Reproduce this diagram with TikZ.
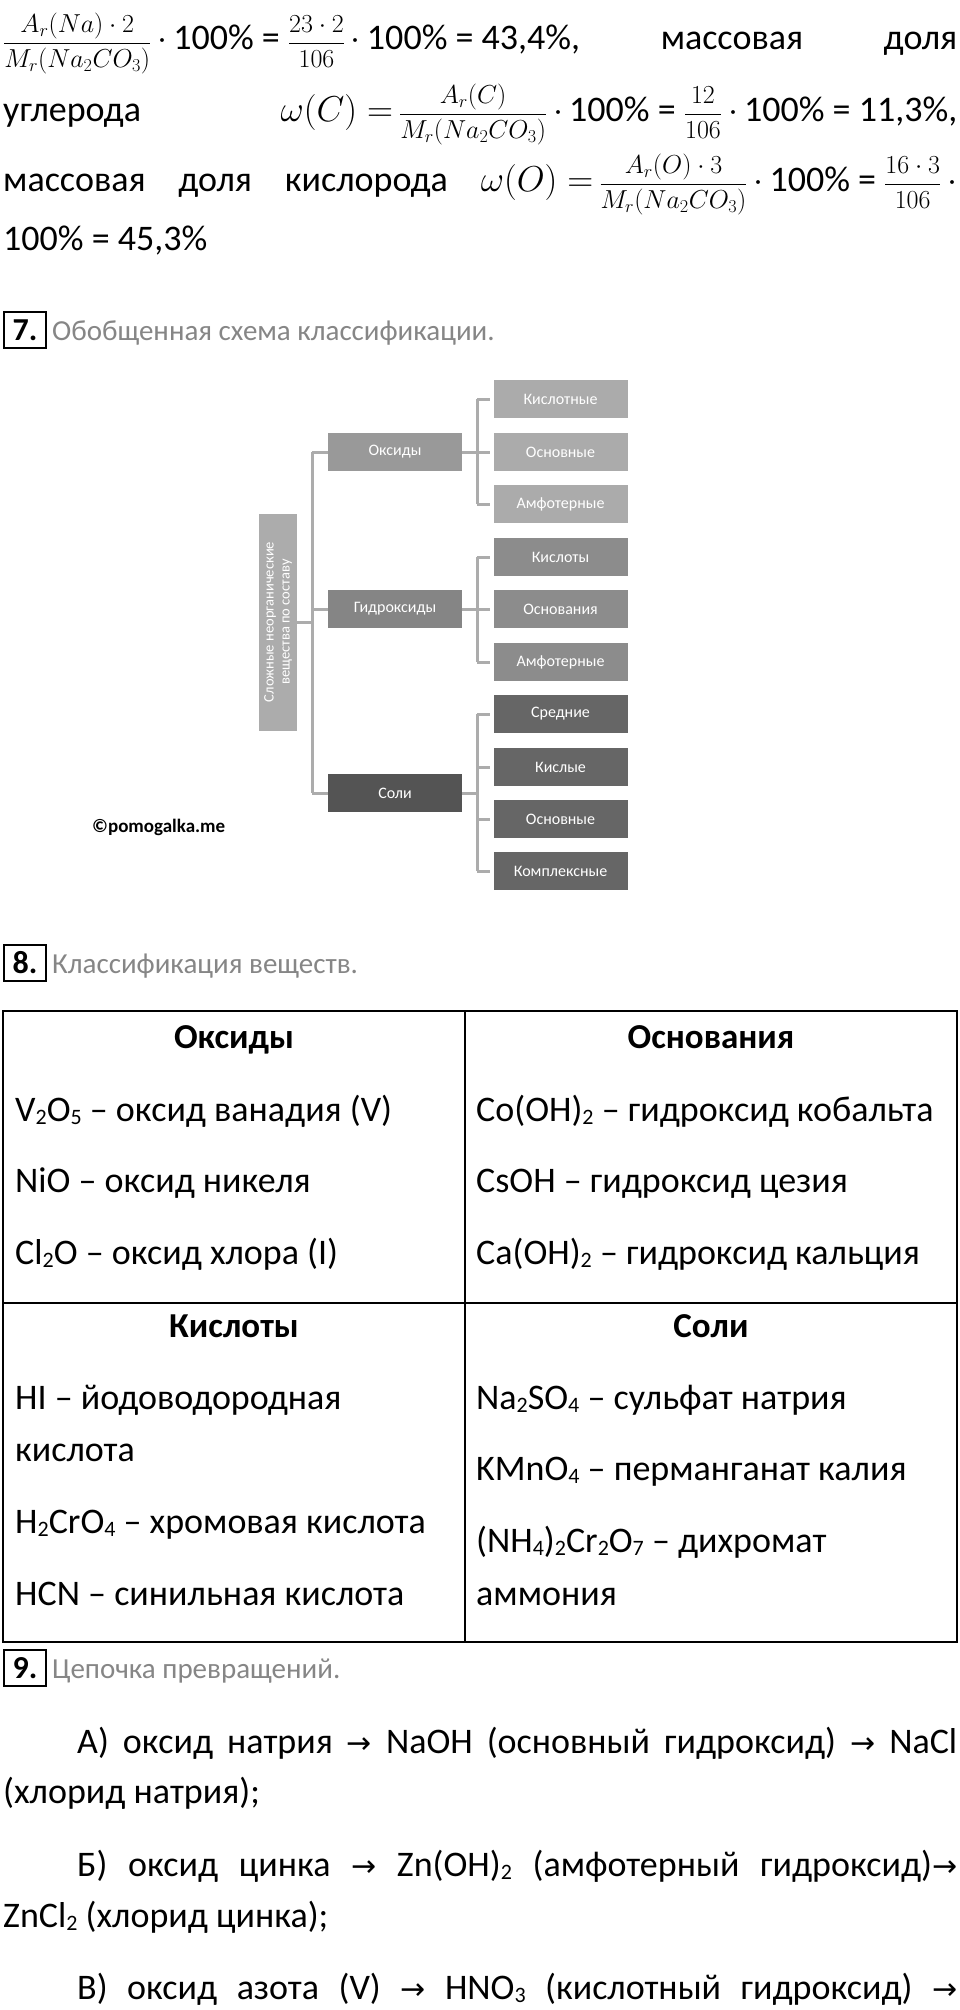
\documentclass[tikz,border=0pt]{standalone}
\usepackage{fix-cm}
\usepackage{fontspec}
\setmainfont{Carlito}
\newfontfamily\arr{DejaVu Sans}
\newcommand{\ar}{{\arr\fontsize{30}{34}\selectfont →}}
\newcommand{\sub}[1]{\raisebox{-0.2ex}{\fontsize{22}{24}\selectfont #1}}
\newcommand{\fr}[2]{{\fontsize{26}{28}\selectfont$\displaystyle\frac{#1}{#2}$}}
\newcommand{\cd}{\,$\cdot$\,}
\begin{document}
\begin{tikzpicture}[x=1pt,y=-1pt,
  txt/.style={anchor=base west,inner sep=0pt,font=\fontsize{36}{40}\selectfont},
  ttl/.style={anchor=base west,inner sep=0pt,text=gray!95,font=\fontsize{29}{32}\selectfont},
  num/.style={draw,line width=1.5pt,inner sep=2pt,minimum width=42pt,minimum height=36pt,font=\fontsize{32}{34}\selectfont\bfseries},
  bx/.style={minimum width=134pt,minimum height=38pt,inner sep=0pt,text=white,font=\fontsize{16}{18}\selectfont},
  ln/.style={draw=gray!65,line width=3pt},
  hd/.style={anchor=base,inner sep=0pt,font=\fontsize{35}{40}\selectfont\bfseries}]
\useasboundingbox (0,0) rectangle (960,2010);
\fill[white] (0,0) rectangle (960,2010);
% formulas
\node[txt] (f1) at (3,50) {\hbox to 954pt{\fr{A_r(Na)\cdot 2}{M_r(Na_2CO_3)}\cd100\% = \fr{23\cdot 2}{106}\cd100\% = 43,4\%,\hfill массовая\hfill доля}};
\node[txt] (f2) at (3,121) {\hbox to 954pt{углерода\hfill $\omega(C)=$\,\fr{A_r(C)}{M_r(Na_2CO_3)}\cd100\% = \fr{12}{106}\cd100\% = 11,3\%,}};
\node[txt] (f3) at (3,191) {\hbox to 954pt{массовая\hfill доля\hfill кислорода\hfill $\omega(O)=$\,\fr{A_r(O)\cdot 3}{M_r(Na_2CO_3)}\cd100\% = \fr{16\cdot 3}{106}\,$\cdot$}};
\node[txt] (f4) at (3,250) {100\% = 45,3\%};
% section 7
\node[num] (n7) at (25,330) {7.};
\node[ttl] (t7) at (52,340) {Обобщенная схема классификации.};
\fill[gray!65] (259,514) rectangle (297,731);
\node[rotate=90,text=white,align=center,inner sep=0pt,font=\fontsize{14.5}{16}\selectfont] (root) at (278,622) {Сложные неорганические\\вещества по составу};
\coordinate (rw) at (297,622);
\node[bx,fill=gray!80] (ox) at (395,452) {Оксиды};
\node[bx,fill=black!48] (hy) at (395,609) {Гидроксиды};
\node[bx,fill=black!67] (sa) at (395,793) {Соли};
\draw[ln] (rw) -- (312,622);
\draw[ln] (312,452) -- (312,793);
\draw[ln] (312,452) -- (ox.west);
\draw[ln] (312,609) -- (hy.west);
\draw[ln] (312,793) -- (sa.west);
\foreach \n/\y/\t/\c in {a/399/Кислотные/33,b/452/Основные/33,c/504/Амфотерные/33,
  d/557/Кислоты/45,e/609/Основания/45,f/662/Амфотерные/45,
  g/714/Средние/60,h/767/Кислые/60,i/819/Основные/60,j/871/Комплексные/60}{
  \node[bx,fill=black!\c] (l\n) at (560.5,\y) {\t};
  \draw[ln] (477,\y) -- (490,\y);
}
\draw[ln] (462,452) -- (477,452); \draw[ln] (477,399) -- (477,504);
\draw[ln] (462,609) -- (477,609); \draw[ln] (477,557) -- (477,662);
\draw[ln] (462,793) -- (477,793); \draw[ln] (477,714) -- (477,871);
\node[anchor=west,inner sep=0pt,font=\fontsize{19}{20}\selectfont\bfseries] (wm) at (92,827) {©pomogalka.me};
% section 8
\node[num] (n8) at (25,963) {8.};
\node[ttl] (t8) at (52,973) {Классификация веществ.};
\draw[line width=1.5pt] (3,1011) rectangle (957,1642);
\draw[line width=1.5pt] (465,1011) -- (465,1642);
\draw[line width=1.5pt] (3,1303) -- (957,1303);
\node[hd] (h1) at (234,1048) {Оксиды};
\node[hd] (h2) at (711,1048) {Основания};
\node[hd] (h3) at (234,1337) {Кислоты};
\node[hd] (h4) at (711,1337) {Соли};
\node[txt] at (15,1121) {V\sub{2}O\sub{5} – оксид ванадия (V)};
\node[txt] at (15,1192) {NiO – оксид никеля};
\node[txt] at (15,1264) {Cl\sub{2}O – оксид хлора (I)};
\node[txt] at (476,1121) {Co(OH)\sub{2} – гидроксид кобальта};
\node[txt] at (476,1192) {CsOH – гидроксид цезия};
\node[txt] at (476,1264) {Ca(OH)\sub{2} – гидроксид кальция};
\node[txt] at (15,1409) {HI – йодоводородная};
\node[txt] at (15,1461) {кислота};
\node[txt] at (15,1533) {H\sub{2}CrO\sub{4} – хромовая кислота};
\node[txt] at (15,1605) {HCN – синильная кислота};
\node[txt] at (476,1409) {Na\sub{2}SO\sub{4} – сульфат натрия};
\node[txt] at (476,1480) {KMnO\sub{4} – перманганат калия};
\node[txt] at (476,1552) {(NH\sub{4})\sub{2}Cr\sub{2}O\sub{7} – дихромат};
\node[txt] at (476,1605) {аммония};
% section 9
\node[num] (n9) at (25,1668) {9.};
\node[ttl] (t9) at (52,1678) {Цепочка превращений.};
\node[txt] (p1) at (77,1753) {\hbox to 880pt{А)\hfill оксид\hfill натрия\hfill \ar\hfill NaOH\hfill (основный\hfill гидроксид)\hfill \ar\hfill NaCl}};
\node[txt] (p2) at (3,1803) {(хлорид натрия);};
\node[txt] (p3) at (77,1876) {\hbox to 880pt{Б)\hfill оксид\hfill цинка\hfill \ar\hfill Zn(OH)\sub{2}\hfill (амфотерный\hfill гидроксид)\ar}};
\node[txt] (p4) at (3,1927) {ZnCl\sub{2} (хлорид цинка);};
\node[txt] (p5) at (77,1999) {\hbox to 880pt{В)\hfill оксид\hfill азота\hfill (V)\hfill \ar\hfill HNO\sub{3}\hfill (кислотный\hfill гидроксид)\hfill \ar}};
\end{tikzpicture}
\end{document}
